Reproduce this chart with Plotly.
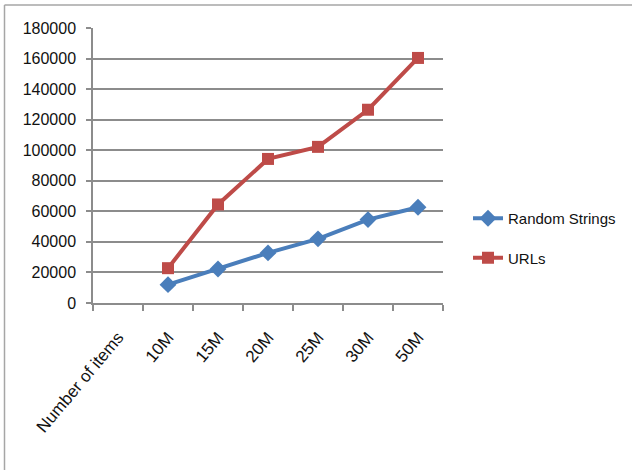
import plotly.graph_objects as go

# Categories along the x axis (first slot is the axis caption with no data)
categories = ["Number of items", "10M", "15M", "20M", "25M", "30M", "50M"]
item_counts = ["10M", "15M", "20M", "25M", "30M", "50M"]

random_strings = [12000, 22300, 32800, 42000, 54600, 62700]
urls = [22800, 64500, 94300, 102200, 126500, 160400]

BLUE = "#4A7EBB"
RED = "#BE4B48"
GRID = "#8C8C8C"
FONT = "Liberation Sans"
TEXT = "#111111"

W, H = 632, 470
L, R, T, B = 93, 189, 28, 167
pw, ph = W - L - R, H - T - B

def px_x(px):
    return (px - L) / pw

def px_y(py):
    return (H - B - py) / ph

fig = go.Figure()
fig.add_trace(go.Scatter(
    x=item_counts, y=random_strings, name="Random Strings",
    mode="lines+markers", legendgroup="a",
    line=dict(color=BLUE, width=4),
    marker=dict(symbol="diamond", size=13, color=BLUE),
))
fig.add_trace(go.Scatter(
    x=item_counts, y=urls, name="URLs",
    mode="lines+markers", legendgroup="b",
    line=dict(color=RED, width=4),
    marker=dict(symbol="square", size=12, color=RED),
))

# Outer frame of the chart area (top and left edges)
fig.add_shape(type="line", xref="paper", yref="paper",
              x0=px_x(4.5), x1=px_x(640), y0=px_y(5), y1=px_y(5),
              line=dict(color="#A6A6A6", width=1.5))
fig.add_shape(type="line", xref="paper", yref="paper",
              x0=px_x(4.5), x1=px_x(4.5), y0=px_y(5), y1=px_y(480),
              line=dict(color="#A6A6A6", width=1.5))

fig.update_layout(
    width=W, height=H,
    margin=dict(l=L, r=R, t=T, b=B, autoexpand=False),
    paper_bgcolor="white", plot_bgcolor="white",
    font=dict(family=FONT, size=15, color=TEXT),
    legend=dict(
        x=px_x(468), y=px_y(202), xanchor="left", yanchor="top",
        traceorder="grouped", tracegroupgap=17,
        font=dict(family=FONT, size=15, color=TEXT),
        bgcolor="rgba(0,0,0,0)",
    ),
    xaxis=dict(
        type="category", categoryorder="array", categoryarray=categories,
        range=[-0.5, 6.5], tickson="boundaries",
        showgrid=False, showline=True, linecolor=GRID, linewidth=1.5,
        ticks="outside", ticklen=6, tickcolor=GRID, tickwidth=1.5,
        ticklabelstandoff=16,
        tickangle=-50, tickfont=dict(family=FONT, size=17, color=TEXT),
        fixedrange=True,
    ),
    yaxis=dict(
        range=[0, 180000], dtick=20000, tickformat="d",
        showgrid=True, gridcolor=GRID, gridwidth=1.5,
        showline=True, linecolor=GRID, linewidth=1.5,
        ticks="outside", ticklen=5, tickcolor=GRID, tickwidth=1.5,
        ticklabelstandoff=7,
        tickfont=dict(family=FONT, size=16, color=TEXT),
        zeroline=False, fixedrange=True,
    ),
)

fig.write_html("out.html")
